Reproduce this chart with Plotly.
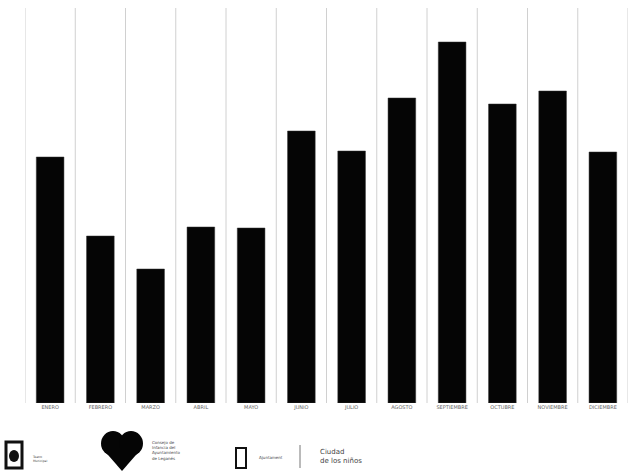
import plotly.graph_objects as go

months = ["ENERO", "FEBRERO", "MARZO", "ABRIL", "MAYO", "JUNIO", "JULIO",
          "AGOSTO", "SEPTIEMBRE", "OCTUBRE", "NOVIEMBRE", "DICIEMBRE"]
values = [246, 167, 134, 176, 175, 272, 252, 305, 361, 299, 312, 251]

W, H = 629, 473
L, R, T, B = 25, 1, 8, 70
fig = go.Figure()
fig.add_trace(go.Bar(
    x=list(range(len(months))), y=values, width=0.55,
    marker=dict(color="#050505", line=dict(color="#333", width=0.5)),
))

fig.update_layout(
    width=W, height=H, margin=dict(l=L, r=R, t=T, b=B, autoexpand=False),
    paper_bgcolor="white", plot_bgcolor="white", showlegend=False,
    font=dict(family="DejaVu Sans", size=5, color="#666"),
    xaxis=dict(range=[-0.5, 11.5], tickmode="array", automargin=False,
               tickvals=list(range(len(months))), ticktext=months,
               showgrid=False, zeroline=False, showline=False, ticks="",
               ticklen=4, tickcolor="white",
               tickfont=dict(size=5, color="#666")),
    yaxis=dict(range=[0, 395], visible=False, showgrid=False, zeroline=False,
               automargin=False),
)

def px(x): return (x - L) / (W - L - R)
def py(y): return (H - B - y) / (H - B - T)

shapes = []
for i in range(len(months) + 1):
    shapes.append(dict(type="line", xref="x", yref="paper", layer="below",
                       x0=i - 0.5, x1=i - 0.5, y0=0, y1=1,
                       line=dict(color="#d0d0d0", width=1)))
# left shield
shapes.append(dict(type="rect", xref="paper", yref="paper",
                   x0=px(6), x1=px(22), y0=py(468), y1=py(442),
                   line=dict(color="#111", width=3), fillcolor="white"))
shapes.append(dict(type="circle", xref="paper", yref="paper",
                   x0=px(9), x1=px(19), y0=py(462), y1=py(450),
                   line=dict(width=0), fillcolor="#111"))
# heart logo
shapes.append(dict(type="circle", xref="paper", yref="paper",
                   x0=px(101), x1=px(125), y0=py(456), y1=py(431),
                   line=dict(width=0), fillcolor="#050505"))
shapes.append(dict(type="circle", xref="paper", yref="paper",
                   x0=px(119), x1=px(143), y0=py(456), y1=py(431),
                   line=dict(width=0), fillcolor="#050505"))
shapes.append(dict(type="path", xref="paper", yref="paper",
                   path=f"M {px(102)} {py(448)} L {px(142)} {py(448)} L {px(122)} {py(471)} Z",
                   line=dict(width=0), fillcolor="#050505"))
# third logo
shapes.append(dict(type="rect", xref="paper", yref="paper",
                   x0=px(236), x1=px(246), y0=py(468), y1=py(448),
                   line=dict(color="#111", width=2), fillcolor="white"))
shapes.append(dict(type="line", xref="paper", yref="paper",
                   x0=px(300), x1=px(300), y0=py(468), y1=py(445),
                   line=dict(color="#777", width=1)))
fig.update_layout(shapes=shapes)

ann = [
    dict(x=px(30), y=py(459), text="Teatro<br>Municipal", size=3),
    dict(x=px(150), y=py(450), text="Consejo de<br>Infancia del<br>Ayuntamiento<br>de Leganés", size=4),
    dict(x=px(257), y=py(457), text="Ajuntament", size=4),
    dict(x=px(318), y=py(456), text="Ciudad<br>de los niños", size=7),
]
fig.update_layout(annotations=[dict(xref="paper", yref="paper", x=a["x"], y=a["y"],
                                    text=a["text"], showarrow=False, xanchor="left",
                                    yanchor="middle", align="left",
                                    font=dict(size=a["size"], color="#444"))
                               for a in ann])

fig.write_html("out.html", config={"displayModeBar": False},
               post_script="document.body.style.margin='0';document.body.style.overflow='hidden';")
